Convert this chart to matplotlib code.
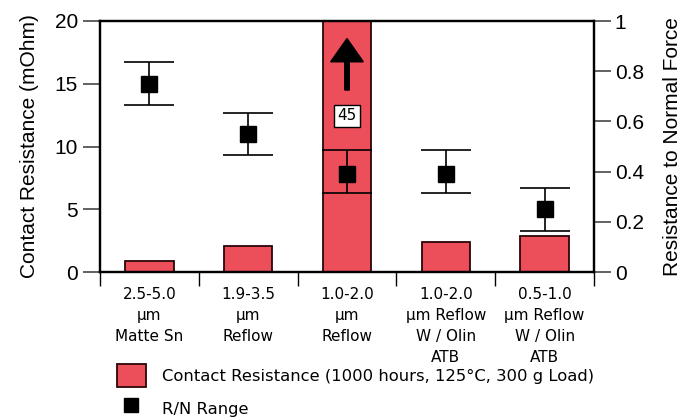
import numpy as np
import matplotlib
matplotlib.use("Agg")
import matplotlib.pyplot as plt
from matplotlib.patches import Patch
from matplotlib.lines import Line2D

# data
categories = ["2.5-5.0\nµm\nMatte Sn",
              "1.9-3.5\nµm\nReflow",
              "1.0-2.0\nµm\nReflow",
              "1.0-2.0\nµm Reflow\nW / Olin\nATB",
              "0.5-1.0\nµm Reflow\nW / Olin\nATB"]
contact_res = [0.9, 2.1, 45.0, 2.4, 2.9]      # mOhm, 1000 h @ 125C
rn_mid = [0.75, 0.55, 0.39, 0.39, 0.25]
rn_low = [0.665, 0.465, 0.315, 0.315, 0.165]
rn_high = [0.835, 0.635, 0.485, 0.485, 0.335]
left_ticks = [0, 5, 10, 15, 20]
right_ticks = [0, 0.2, 0.4, 0.6, 0.8, 1.0]
right_labels = ["0", "0.2", "0.4", "0.6", "0.8", "1"]
off_scale_label = "45"

bar_color = "#ec4e5a"
edge_dark = "#2a0508"
axis_font = "Liberation Sans"
spaced_font = "DejaVu Sans"

fig = plt.figure(figsize=(6.94, 4.18), dpi=100)
ax = fig.add_axes([100/694, 1-272/418, 494/694, 251/418])
x = np.arange(len(categories))

ax.bar(x, contact_res, width=0.49, color=bar_color, edgecolor=edge_dark,
       linewidth=1.3, zorder=2)
ax.set_xlim(-0.5, len(categories) - 0.5)
ax.set_ylim(0, 20)

# arrow + value box for the off-scale bar
big = int(np.argmax(contact_res))
ax.arrow(x[big], 14.5, 0, 4.1, width=0.046, head_width=0.33, head_length=1.85,
         length_includes_head=True, color="black", zorder=4)
ax.text(x[big], 12.45, off_scale_label, ha="center", va="center",
        fontsize=11, family=spaced_font, zorder=5,
        bbox=dict(boxstyle="square,pad=0.24", facecolor="white",
                  edgecolor="black", linewidth=1.0))

# category ticks: boundaries as major ticks, names as minor labels
ax.set_xticks(np.arange(-0.5, len(categories)), labels=[])
ax.set_xticks(x, labels=categories, minor=True)
ax.tick_params(axis="x", which="major", length=10, width=1.0, color="black")
ax.tick_params(axis="x", which="minor", length=0, pad=11)
for lab in ax.get_xticklabels(minor=True):
    lab.set_fontfamily(spaced_font)
    lab.set_fontsize(11)
    lab.set_linespacing(1.5)
    lab.set_verticalalignment("top")

ax.set_yticks(left_ticks)
ax.tick_params(axis="y", length=12, width=1.3, color="#555555", pad=4,
               labelsize=15)
for lab in ax.get_yticklabels():
    lab.set_fontfamily(axis_font)
ax.set_ylabel("Contact Resistance (mOhm)", fontsize=15, family=axis_font,
              labelpad=11)

for s in ax.spines.values():
    s.set_linewidth(1.6)

ax2 = ax.twinx()
ax2.set_ylim(0, 1)
ax2.errorbar(x, rn_mid,
             yerr=[np.subtract(rn_mid, rn_low), np.subtract(rn_high, rn_mid)],
             fmt="s", color="black", markersize=11, elinewidth=1.2,
             capsize=18, capthick=1.2, zorder=6)
ax2.set_yticks(right_ticks, labels=right_labels)
ax2.tick_params(axis="y", length=12, width=1.3, color="#555555", pad=3,
                labelsize=15)
for lab in ax2.get_yticklabels():
    lab.set_fontfamily(axis_font)
ax2.set_ylabel("Resistance to Normal Force", fontsize=15, family=axis_font,
               labelpad=14)
for s in ax2.spines.values():
    s.set_linewidth(1.6)

handles = [Patch(facecolor=bar_color, edgecolor=edge_dark, linewidth=1.3),
           Line2D([], [], marker="s", color="black", linestyle="none",
                  markersize=10)]
labels = ["Contact Resistance (1000 hours, 125°C, 300 g Load)", "R/N Range"]
fig.legend(handles, labels, loc="upper left",
           bbox_to_anchor=(117/694, 1-364/418), frameon=False,
           prop={"family": spaced_font, "size": 11.8},
           handlelength=1.75, handleheight=1.8, handletextpad=1.0,
           labelspacing=0.6, borderpad=0, borderaxespad=0)

fig.savefig("out.png", dpi=100)
